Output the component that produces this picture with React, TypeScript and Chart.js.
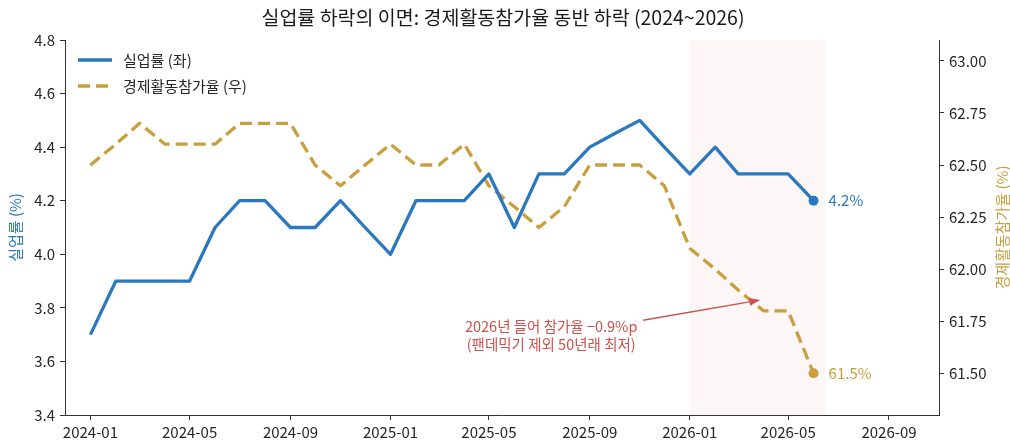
import React, { useEffect, useRef } from 'react';
import { Chart, registerables } from 'chart.js';

Chart.register(...registerables);

// ---------- data ----------
const MONTHS = [
  '2024-01', '2024-02', '2024-03', '2024-04', '2024-05', '2024-06',
  '2024-07', '2024-08', '2024-09', '2024-10', '2024-11', '2024-12',
  '2025-01', '2025-02', '2025-03', '2025-04', '2025-05', '2025-06',
  '2025-07', '2025-08', '2025-09', '2025-10', '2025-11', '2025-12',
  '2026-01', '2026-02', '2026-03', '2026-04', '2026-05', '2026-06',
];

const UNEMPLOYMENT = [
  3.7, 3.9, 3.9, 3.9, 3.9, 4.1,
  4.2, 4.2, 4.1, 4.1, 4.2, 4.1,
  4.0, 4.2, 4.2, 4.2, 4.3, 4.1,
  4.3, 4.3, 4.4, 4.45, 4.5, 4.4,
  4.3, 4.4, 4.3, 4.3, 4.3, 4.2,
];

const PARTICIPATION = [
  62.5, 62.6, 62.7, 62.6, 62.6, 62.6,
  62.7, 62.7, 62.7, 62.5, 62.4, 62.5,
  62.6, 62.5, 62.5, 62.6, 62.4, 62.3,
  62.2, 62.3, 62.5, 62.5, 62.5, 62.4,
  62.1, 62.0, 61.9, 61.8, 61.8, 61.5,
];

const X_TICK_LABELS = [
  '2024-01', '2024-05', '2024-09', '2025-01', '2025-05',
  '2025-09', '2026-01', '2026-05', '2026-09',
];
const Y_LEFT_TICKS = [3.4, 3.6, 3.8, 4.0, 4.2, 4.4, 4.6, 4.8];
const Y_RIGHT_TICKS = [61.5, 61.75, 62.0, 62.25, 62.5, 62.75, 63.0];

const X_RANGE = ['2023-12-01', '2026-11-01'];
const LEFT_RANGE = [3.4, 4.8];
const RIGHT_RANGE = [61.3, 63.1];
const SHADE_RANGE = ['2026-01-01', '2026-06-15'];

const TITLE = '실업률 하락의 이면: 경제활동참가율 동반 하락 (2024~2026)';
const LEGEND_LABELS = ['실업률 (좌)', '경제활동참가율 (우)'];
const LEFT_AXIS_TITLE = '실업률 (%)';
const RIGHT_AXIS_TITLE = '경제활동참가율 (%)';
const END_LABELS = ['4.2%', '61.5%'];

const ANNOTATION_LINES = ['2026년 들어 참가율 −0.9%p', '(팬데믹기 제외 50년래 최저)'];
const ANNOTATION_TEXT_AT = { date: '2025-07-16', value: 61.684 };
const ANNOTATION_ARROW_FROM = { date: '2025-11-05', value: 61.755 };
const ANNOTATION_ARROW_TO = { date: '2026-03-28', value: 61.852 };

// ---------- style ----------
const BLUE = '#2b78bf';
const GOLD = '#c99f3d';
const RED = '#c9524e';
const SHADE = 'rgba(200, 90, 90, 0.055)';
const INK = '#262626';
const AXIS = '#333333';
const FONT = '"Noto Sans CJK KR", "Noto Sans", sans-serif';

const BASE = Date.UTC(2024, 0, 1);
function dayOf(s: string): number {
  const [y, m, d] = s.split('-').map(Number);
  return Math.round((Date.UTC(y, m - 1, d || 1) - BASE) / 86400000);
}

const LAST = MONTHS.length - 1;

const overlayPlugin = {
  id: 'overlay',
  beforeDatasetsDraw(chart: any) {
    const { ctx, chartArea, scales } = chart;
    const x0 = scales.x.getPixelForValue(dayOf(SHADE_RANGE[0]));
    const x1 = scales.x.getPixelForValue(dayOf(SHADE_RANGE[1]));
    ctx.save();
    ctx.fillStyle = SHADE;
    ctx.fillRect(x0, chartArea.top, x1 - x0, chartArea.bottom - chartArea.top);
    ctx.restore();
  },
  afterDraw(chart: any) {
    const { ctx, chartArea, scales } = chart;
    const W = chart.width;
    ctx.save();

    // title
    ctx.fillStyle = '#1a1a1a';
    ctx.font = `19.5px ${FONT}`;
    ctx.textAlign = 'center';
    ctx.textBaseline = 'middle';
    ctx.fillText(TITLE, 503, 18);

    // axis titles
    const midY = (chartArea.top + chartArea.bottom) / 2;
    ctx.font = `15px ${FONT}`;
    ctx.save();
    ctx.translate(15, midY);
    ctx.rotate(-Math.PI / 2);
    ctx.fillStyle = BLUE;
    ctx.fillText(LEFT_AXIS_TITLE, 0, 0);
    ctx.restore();
    ctx.save();
    ctx.translate(W - 8, midY);
    ctx.rotate(-Math.PI / 2);
    ctx.fillStyle = GOLD;
    ctx.fillText(RIGHT_AXIS_TITLE, 0, 0);
    ctx.restore();

    // legend
    const lx0 = chartArea.left + 13;
    const lx1 = lx0 + 34;
    const rows = [chartArea.top + 20, chartArea.top + 46];
    ctx.lineWidth = 3.3;
    ctx.lineCap = 'butt';
    ctx.strokeStyle = BLUE;
    ctx.setLineDash([]);
    ctx.beginPath();
    ctx.moveTo(lx0, rows[0]);
    ctx.lineTo(lx1, rows[0]);
    ctx.stroke();
    ctx.strokeStyle = GOLD;
    ctx.setLineDash([12, 6]);
    ctx.beginPath();
    ctx.moveTo(lx0, rows[1]);
    ctx.lineTo(lx1, rows[1]);
    ctx.stroke();
    ctx.setLineDash([]);
    ctx.fillStyle = INK;
    ctx.textAlign = 'left';
    ctx.font = `15px ${FONT}`;
    ctx.fillText(LEGEND_LABELS[0], lx1 + 11, rows[0]);
    ctx.fillText(LEGEND_LABELS[1], lx1 + 11, rows[1]);

    // end labels
    const xe = scales.x.getPixelForValue(dayOf(MONTHS[LAST]));
    ctx.font = `15px ${FONT}`;
    ctx.fillStyle = BLUE;
    ctx.fillText(END_LABELS[0], xe + 15, scales.y.getPixelForValue(UNEMPLOYMENT[LAST]));
    ctx.fillStyle = GOLD;
    ctx.fillText(END_LABELS[1], xe + 15, scales.y2.getPixelForValue(PARTICIPATION[LAST]));

    // annotation
    const tx = scales.x.getPixelForValue(dayOf(ANNOTATION_TEXT_AT.date));
    const ty = scales.y2.getPixelForValue(ANNOTATION_TEXT_AT.value);
    ctx.font = `14.5px ${FONT}`;
    ctx.fillStyle = RED;
    ctx.textAlign = 'center';
    ctx.fillText(ANNOTATION_LINES[0], tx, ty - 9);
    ctx.fillText(ANNOTATION_LINES[1], tx, ty + 9);

    const ax0 = scales.x.getPixelForValue(dayOf(ANNOTATION_ARROW_FROM.date));
    const ay0 = scales.y2.getPixelForValue(ANNOTATION_ARROW_FROM.value);
    const ax1 = scales.x.getPixelForValue(dayOf(ANNOTATION_ARROW_TO.date));
    const ay1 = scales.y2.getPixelForValue(ANNOTATION_ARROW_TO.value);
    const ang = Math.atan2(ay1 - ay0, ax1 - ax0);
    const headLen = 11;
    const headW = 4;
    const bx = ax1 - headLen * Math.cos(ang);
    const by = ay1 - headLen * Math.sin(ang);
    ctx.strokeStyle = RED;
    ctx.lineWidth = 1.5;
    ctx.beginPath();
    ctx.moveTo(ax0, ay0);
    ctx.lineTo(bx, by);
    ctx.stroke();
    ctx.beginPath();
    ctx.moveTo(ax1, ay1);
    ctx.lineTo(bx + headW * Math.sin(ang), by - headW * Math.cos(ang));
    ctx.lineTo(bx - headW * Math.sin(ang), by + headW * Math.cos(ang));
    ctx.closePath();
    ctx.fillStyle = RED;
    ctx.fill();

    ctx.restore();
  },
};

export default function App() {
  const ref = useRef<HTMLCanvasElement | null>(null);

  useEffect(() => {
    document.body.style.margin = '0';
    if (!ref.current) return;

    const tickFont = { family: FONT, size: 15 };
    const gridCommon = {
      drawOnChartArea: false,
      drawTicks: true,
      tickLength: 5,
      color: AXIS,
      lineWidth: 1,
    };

    const chart = new Chart(ref.current, {
      type: 'line',
      data: {
        datasets: [
          {
            label: LEGEND_LABELS[0],
            data: MONTHS.map((m, i) => ({ x: dayOf(m), y: UNEMPLOYMENT[i] })),
            yAxisID: 'y',
            borderColor: BLUE,
            backgroundColor: BLUE,
            borderWidth: 3.3,
            borderJoinStyle: 'round',
            borderCapStyle: 'butt',
            tension: 0,
            pointRadius: MONTHS.map((_, i) => (i === LAST ? 5 : 0)),
            pointBorderWidth: 0,
            pointBackgroundColor: BLUE,
            fill: false,
          },
          {
            label: LEGEND_LABELS[1],
            data: MONTHS.map((m, i) => ({ x: dayOf(m), y: PARTICIPATION[i] })),
            yAxisID: 'y2',
            borderColor: GOLD,
            backgroundColor: GOLD,
            borderWidth: 3.3,
            borderDash: [12, 6],
            borderJoinStyle: 'round',
            borderCapStyle: 'butt',
            tension: 0,
            pointRadius: MONTHS.map((_, i) => (i === LAST ? 5 : 0)),
            pointBorderWidth: 0,
            pointBackgroundColor: GOLD,
            fill: false,
          },
        ],
      } as any,
      options: {
        animation: false,
        responsive: false,
        devicePixelRatio: 1,
        layout: { padding: { top: 40, left: 0, right: 0, bottom: 0 } },
        plugins: {
          legend: { display: false },
          title: { display: false },
          tooltip: { enabled: false },
        },
        scales: {
          x: {
            type: 'linear',
            min: dayOf(X_RANGE[0]),
            max: dayOf(X_RANGE[1]),
            afterBuildTicks: (s: any) => {
              s.ticks = X_TICK_LABELS.map((l) => ({ value: dayOf(l) }));
            },
            afterFit: (s: any) => {
              s.height = 28;
            },
            ticks: {
              autoSkip: false,
              maxRotation: 0,
              padding: 3,
              color: INK,
              font: tickFont,
              callback: (v: any) => {
                const idx = X_TICK_LABELS.findIndex((l) => dayOf(l) === v);
                return idx >= 0 ? X_TICK_LABELS[idx] : '';
              },
            },
            grid: gridCommon,
            border: { display: true, color: AXIS, width: 1 },
          },
          y: {
            type: 'linear',
            position: 'left',
            min: LEFT_RANGE[0],
            max: LEFT_RANGE[1],
            afterBuildTicks: (s: any) => {
              s.ticks = Y_LEFT_TICKS.map((v) => ({ value: v }));
            },
            afterFit: (s: any) => {
              s.width = 65;
            },
            ticks: {
              padding: 5,
              color: INK,
              font: tickFont,
              callback: (v: any) => Number(v).toFixed(1),
            },
            grid: gridCommon,
            border: { display: true, color: AXIS, width: 1 },
          },
          y2: {
            type: 'linear',
            position: 'right',
            min: RIGHT_RANGE[0],
            max: RIGHT_RANGE[1],
            afterBuildTicks: (s: any) => {
              s.ticks = Y_RIGHT_TICKS.map((v) => ({ value: v }));
            },
            afterFit: (s: any) => {
              s.width = 71;
            },
            ticks: {
              padding: 5,
              color: INK,
              font: tickFont,
              callback: (v: any) => Number(v).toFixed(2),
            },
            grid: gridCommon,
            border: { display: true, color: AXIS, width: 1 },
          },
        },
      } as any,
      plugins: [overlayPlugin],
    });

    return () => chart.destroy();
  }, []);

  return (
    <div style={{ position: 'absolute', left: 0, top: 0, width: 1010, height: 443, background: '#fff' }}>
      <canvas ref={ref} width={1010} height={443} style={{ width: 1010, height: 443, display: 'block' }} />
    </div>
  );
}
